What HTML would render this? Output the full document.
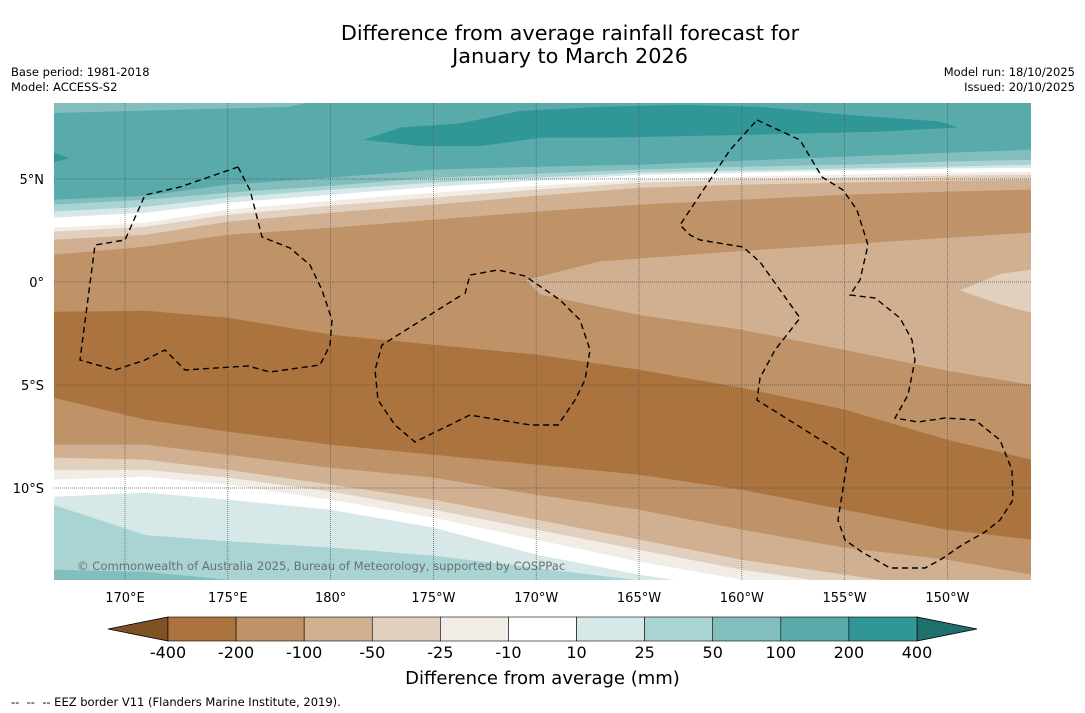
<!DOCTYPE html>
<html><head><meta charset="utf-8"><style>
body{margin:0;background:#fff;font-family:"DejaVu Sans","Liberation Sans",sans-serif;}
#wrap{position:relative;width:1085px;height:713px;overflow:hidden;background:#fff;}
.t{position:absolute;white-space:nowrap;color:#000;}
</style></head><body>
<div id="wrap">
<div class="t" style="left:0;width:1140px;text-align:center;top:22px;font-size:20.8px;line-height:23px;">Difference from average rainfall forecast for<br>January to March 2026</div>
<div class="t" style="left:11px;top:65px;font-size:11.5px;line-height:15px;">Base period: 1981-2018<br>Model: ACCESS-S2</div>
<div class="t" style="right:10px;top:65px;font-size:11.5px;line-height:15px;text-align:right;">Model run: 18/10/2025<br>Issued: 20/10/2025</div>
<svg id="svg" width="1085" height="713" style="position:absolute;left:0;top:0"></svg>
<div class="t" style="left:0;width:1085px;text-align:center;top:668px;font-size:18px;">Difference from average (mm)</div>
<div class="t" style="left:11px;top:695px;font-size:11.5px;">--&nbsp; --&nbsp; -- EEZ border V11 (Flanders Marine Institute, 2019).</div>
</div>
<script>
const lons=[166.5,171,175,180,185,190,195,200,205,210,214.1];
const b100N=[3.98,4.17,4.71,5.05,5.44,5.58,5.68,5.87,6.07,6.26,6.41];
const b50N=[3.74,3.98,4.32,4.66,5.05,5.24,5.44,5.58,5.68,5.83,5.92];
const b25N=[3.40,3.64,4.08,4.47,4.81,5.05,5.29,5.39,5.49,5.58,5.68];
const b10N=[3.11,3.35,3.83,4.22,4.61,4.90,5.19,5.29,5.39,5.49,5.53];
const bm10N=[2.62,2.86,3.50,3.93,4.32,4.66,4.95,5.10,5.19,5.29,5.34];
const bm25N=[2.43,2.67,3.25,3.69,4.08,4.47,4.81,4.95,5.05,5.15,5.19];
const bm50N=[2.04,2.28,2.91,3.35,3.74,4.17,4.56,4.71,4.81,4.90,4.95];
const bm100N=[1.31,1.70,2.28,2.62,3.01,3.40,3.74,3.98,4.22,4.37,4.47];
const bm200N=[-1.46,-1.41,-1.75,-2.57,-3.06,-3.54,-4.27,-5.15,-6.21,-7.67,-8.64];
const bm200S=[-5.63,-6.70,-7.28,-7.91,-8.40,-8.88,-9.37,-10.10,-11.07,-12.04,-12.52];
const bm100S=[-7.91,-7.91,-8.40,-9.03,-9.51,-10.34,-11.07,-12.04,-12.91,-13.50,-14.22];
const bm50S=[-8.54,-8.64,-9.13,-9.85,-10.58,-11.55,-12.52,-13.50,-14.22,-14.95,-15.44];
const bm25S=[-9.13,-9.13,-9.51,-10.19,-11.07,-12.04,-13.01,-13.98,-14.71,-15.44,-15.92];
const bm10S=[-9.61,-9.47,-9.85,-10.58,-11.46,-12.52,-13.59,-14.47,-15.19,-15.92,-16.41];
const b10S=[-10.44,-10.24,-10.58,-11.07,-11.94,-13.25,-14.22,-14.95,-15.68,-16.41,-16.89];
const b25S=[-10.83,-12.3,-12.6,-12.9,-13.3,-13.9,-14.5,-15.1,-15.68,-16.17,-16.65];
const b50S=[-13.98,-14.08,-14.47,-14.95,-15.44,-15.92,-16.41,-16.89,-17.4,-17.9,-18.4];
const wetCore=[[181.6,6.9],[183.4,7.5],[186.3,7.7],[189.2,8.3],[193.1,8.5],[197.1,8.6],[200.9,8.5],[205.3,8.1],[209.6,7.8],[210.5,7.5],[206.7,7.3],[202.8,7.2],[198,7.1],[193.1,7.0],[190.2,7.0],[187.3,6.6],[184.4,6.6]];
const wetLeftSpot=[[166.5,6.3],[167.3,6.0],[166.5,5.8]];
const topLeftPatch=[[166.5,9.0],[180,9.0],[178,8.5],[166.5,8.2]];
const dryTongue=[[214.1,2.4],[207.7,2.0],[199.9,1.5],[193.1,1.0],[189.5,0.1],[190.2,-0.6],[195,-1.6],[199.9,-2.3],[205,-3.3],[210,-4.3],[214.1,-5.0]];
const dryTongueInner=[[214.1,0.6],[212.6,0.4],[210.6,-0.4],[212.6,-1.1],[214.1,-1.5]];
const levels=[-400,-200,-100,-50,-25,-10,10,25,50,100,200,400];
const colors=['#ab743e','#bf9268','#d0b091','#e2d0be','#f2ece6','#ffffff','#d6e9e8','#aad4d3','#82bebe','#59aaab','#309796'];
const xTicks=[170,175,180,185,190,195,200,205,210];
const xTickLabels=['170°E','175°E','180°','175°W','170°W','165°W','160°W','155°W','150°W'];
const yTicks=[5,0,-5,-10];
const yTickLabels=['5°N','0°','5°S','10°S'];

const NS='http://www.w3.org/2000/svg';
const FONT='DejaVu Sans, Liberation Sans, sans-serif';
const svg=document.getElementById('svg');
const X0=54,X1=1031,Y0=103,Y1=580;
const xs=lon=>125+(lon-170)*20.56;
const ys=lat=>282-lat*20.6;
function mk(tag,attrs,parent){const e=document.createElementNS(NS,tag);for(const k in attrs)e.setAttribute(k,attrs[k]);(parent||svg).appendChild(e);return e;}
const defs=mk('defs',{});
const cp=mk('clipPath',{id:'mapclip'},defs);
mk('rect',{x:X0,y:Y0,width:X1-X0,height:Y1-Y0},cp);
const g=mk('g',{'clip-path':'url(#mapclip)'});


function lineOf(arr){return lons.map((l,i)=>[xs(l),ys(arr[i])]);}
const seq=[[null,b100N,9],[b100N,b50N,8],[b50N,b25N,7],[b25N,b10N,6],[b10N,bm10N,5],[bm10N,bm25N,4],[bm25N,bm50N,3],[bm50N,bm100N,2],[bm100N,bm200N,1],[bm200N,bm200S,0],[bm200S,bm100S,1],[bm100S,bm50S,2],[bm50S,bm25S,3],[bm25S,bm10S,4],[bm10S,b10S,5],[b10S,b25S,6],[b25S,b50S,7],[b50S,null,8]];
seq.forEach(s=>{
  const top=s[0],bot=s[1];
  const a=top?lineOf(top):[[X0-20,Y0-20],[X1+20,Y0-20]];
  const b=bot?lineOf(bot):[[X0-20,Y1+40],[X1+20,Y1+40]];
  if(top){a.unshift([X0-20,a[0][1]]);a.push([X1+20,a[a.length-1][1]]);}
  if(bot){b.unshift([X0-20,b[0][1]]);b.push([X1+20,b[b.length-1][1]]);}
  const pts=a.concat(b.reverse());
  const col=colors[s[2]];
  const p=mk('polygon',{points:pts.map(q=>q.join(',')).join(' '),fill:col,stroke:col,'stroke-width':0.6},g);
  
  
});
function poly(arr,col,name){
  const p=mk('polygon',{points:arr.map(q=>xs(q[0])+','+ys(q[1])).join(' '),fill:col},g);
  
  
}
poly(topLeftPatch,colors[8],'wet-patch-northwest');
poly(wetCore,colors[10],'wet-core-north');
poly(wetLeftSpot,colors[10],'wet-spot-west');
poly(dryTongue,colors[2],'dry-tongue-east');
poly(dryTongueInner,colors[3],'dry-tongue-inner');
xTicks.forEach(t=>{const l=mk('line',{x1:xs(t),x2:xs(t),y1:Y0,y2:Y1,stroke:'#555','stroke-width':0.7,'stroke-dasharray':'1,1'},g);

});
yTicks.forEach(t=>{const l=mk('line',{x1:X0,x2:X1,y1:ys(t),y2:ys(t),stroke:'#555','stroke-width':0.7,'stroke-dasharray':'1,1'},g);

});
const eez=[
 [[238,167],[250,190],[262,237],[290,248],[310,265],[322,290],[332,320],[330,345],[320,365],[270,372],[248,366],[185,370],[165,350],[145,360],[115,370],[80,360],[95,245],[125,240],[145,195],[180,187],[238,167]],
 [[465,294],[470,275],[498,270],[525,276],[560,300],[580,320],[590,350],[585,380],[575,400],[558,425],[530,425],[470,415],[415,442],[395,425],[378,400],[375,370],[382,345],[460,296]],
 [[757,120],[800,140],[822,177],[843,190],[857,210],[868,245],[860,280],[850,295],[875,298],[900,318],[912,340],[915,360],[908,395],[895,418],[918,422],[945,418],[975,420],[1000,440],[1012,470],[1013,500],[1000,520],[985,532],[962,545],[940,560],[925,568],[890,568],[862,552],[845,540],[838,520],[848,457],[757,400],[760,378],[775,350],[800,318],[780,290],[760,262],[743,247],[700,240],[690,235],[680,225],[700,195],[730,150],[757,120]]];
eez.forEach(p=>{const e=mk('polyline',{points:p.map(q=>q.join(',')).join(' '),fill:'none',stroke:'#000','stroke-width':1.4,'stroke-dasharray':'6,4'},g);

});
const cr=mk('text',{x:77,y:570,'font-size':11.6,fill:'#6a7070','font-family':FONT},g);
cr.textContent='© Commonwealth of Australia 2025, Bureau of Meteorology, supported by COSPPac';


xTicks.forEach((t,i)=>{const e=mk('text',{x:xs(t),y:602,'font-size':13,'text-anchor':'middle','font-family':FONT});e.textContent=xTickLabels[i];

});
yTicks.forEach((t,i)=>{const e=mk('text',{x:44,y:ys(t)+5,'font-size':13,'text-anchor':'end','font-family':FONT});e.textContent=yTickLabels[i];

});
const CB0=168,CB1=917,CBY=617,CBH=24,n=colors.length,w=(CB1-CB0)/n;
const lt=mk('polygon',{points:`108,${CBY+CBH/2} ${CB0},${CBY} ${CB0},${CBY+CBH}`,fill:'#7f5226',stroke:'#000','stroke-width':0.8});


const rt=mk('polygon',{points:`977,${CBY+CBH/2} ${CB1},${CBY} ${CB1},${CBY+CBH}`,fill:'#1f6f6d',stroke:'#000','stroke-width':0.8});


colors.forEach((c,i)=>{const r=mk('rect',{x:CB0+i*w,y:CBY,width:w,height:CBH,fill:c,stroke:'#000','stroke-width':0.6});

});
levels.forEach((v,i)=>{const e=mk('text',{x:CB0+i*w,y:658,'font-size':16,'text-anchor':'middle','font-family':FONT});e.textContent=v;

});
</script>
</body></html>
